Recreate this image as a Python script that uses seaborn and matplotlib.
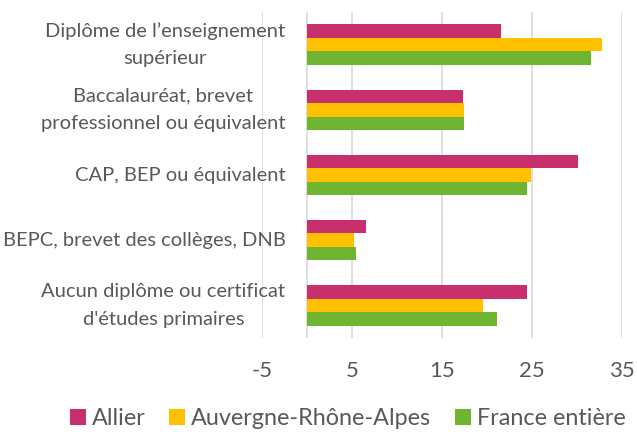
import matplotlib
matplotlib.use("Agg")
import matplotlib.pyplot as plt
import seaborn as sns
import pandas as pd
from matplotlib.patches import Patch

categories = [
    "Diplôme de l’enseignement\nsupérieur",
    "Baccalauréat, brevet\nprofessionnel ou équivalent",
    "CAP, BEP ou équivalent",
    "BEPC, brevet des collèges, DNB",
    "Aucun diplôme ou certificat\nd'études primaires",
]
series = ["Allier", "Auvergne-Rhône-Alpes", "France entière"]
allier = [21.6, 17.3, 30.1, 6.6, 24.4]
ara = [32.8, 17.4, 24.9, 5.2, 19.6]
france = [31.6, 17.4, 24.4, 5.4, 21.1]
xticks = [-5, 5, 15, 25, 35]
colors = ["#C7306C", "#FFC000", "#70B532"]

rows = []
for s, vals in zip(series, [allier, ara, france]):
    for c, v in zip(categories, vals):
        rows.append({"cat": c, "serie": s, "val": v})
df = pd.DataFrame(rows)

sns.set_theme(style="white")
plt.rcParams["font.family"] = ["Lato", "DejaVu Sans"]

W, H = 637, 432
fig = plt.figure(figsize=(W / 100, H / 100), dpi=100)
ax = fig.add_axes([262 / W, (H - 338) / H, 360 / W, 326 / H])

for x in xticks:
    ax.axvline(x, color="#D9D9D9", lw=1.2, zorder=0)
ax.axvline(0, color="#D9D9D9", lw=1.2, zorder=0)

sns.barplot(data=df, x="val", y="cat", hue="serie", order=categories,
            hue_order=series, palette=colors, orient="h", width=0.62,
            ax=ax, legend=False, linewidth=0, saturation=1, zorder=2)

ax.set_xlim(-5, 35)
ax.set_ylim(len(categories) - 0.5, -0.5)
ax.set_xticks(xticks)
ax.set_xticklabels([str(x) for x in xticks], fontsize=16, color="#595959")
ax.tick_params(axis="x", length=0, pad=16.5)
ax.set_yticks([])
ax.set_xlabel("")
ax.set_ylabel("")
for s in ax.spines.values():
    s.set_visible(False)

for i, c in enumerate(categories):
    ax.text(-2.4, i, c, ha="right", va="center", multialignment="center",
            fontsize=14.5, color="#595959", linespacing=1.75, zorder=3,
            clip_on=False)

handles = [Patch(facecolor=col, edgecolor="none") for col in colors]


def make_legend(fs):
    return fig.legend(handles, series, loc="center",
                      bbox_to_anchor=(347.5 / W, 13.5 / H),
                      ncol=3, frameon=False, fontsize=fs, labelcolor="#595959",
                      handlelength=0.7, handleheight=0.7, handletextpad=0.25,
                      columnspacing=1.0, borderpad=0, borderaxespad=0)


fs = 16
target = 557.0
for _ in range(4):
    leg = make_legend(fs)
    fig.canvas.draw()
    w = leg.get_window_extent().width
    if abs(w - target) < 2:
        break
    leg.remove()
    fs = fs * target / w

fig.savefig("out.png", dpi=100, facecolor="white")
